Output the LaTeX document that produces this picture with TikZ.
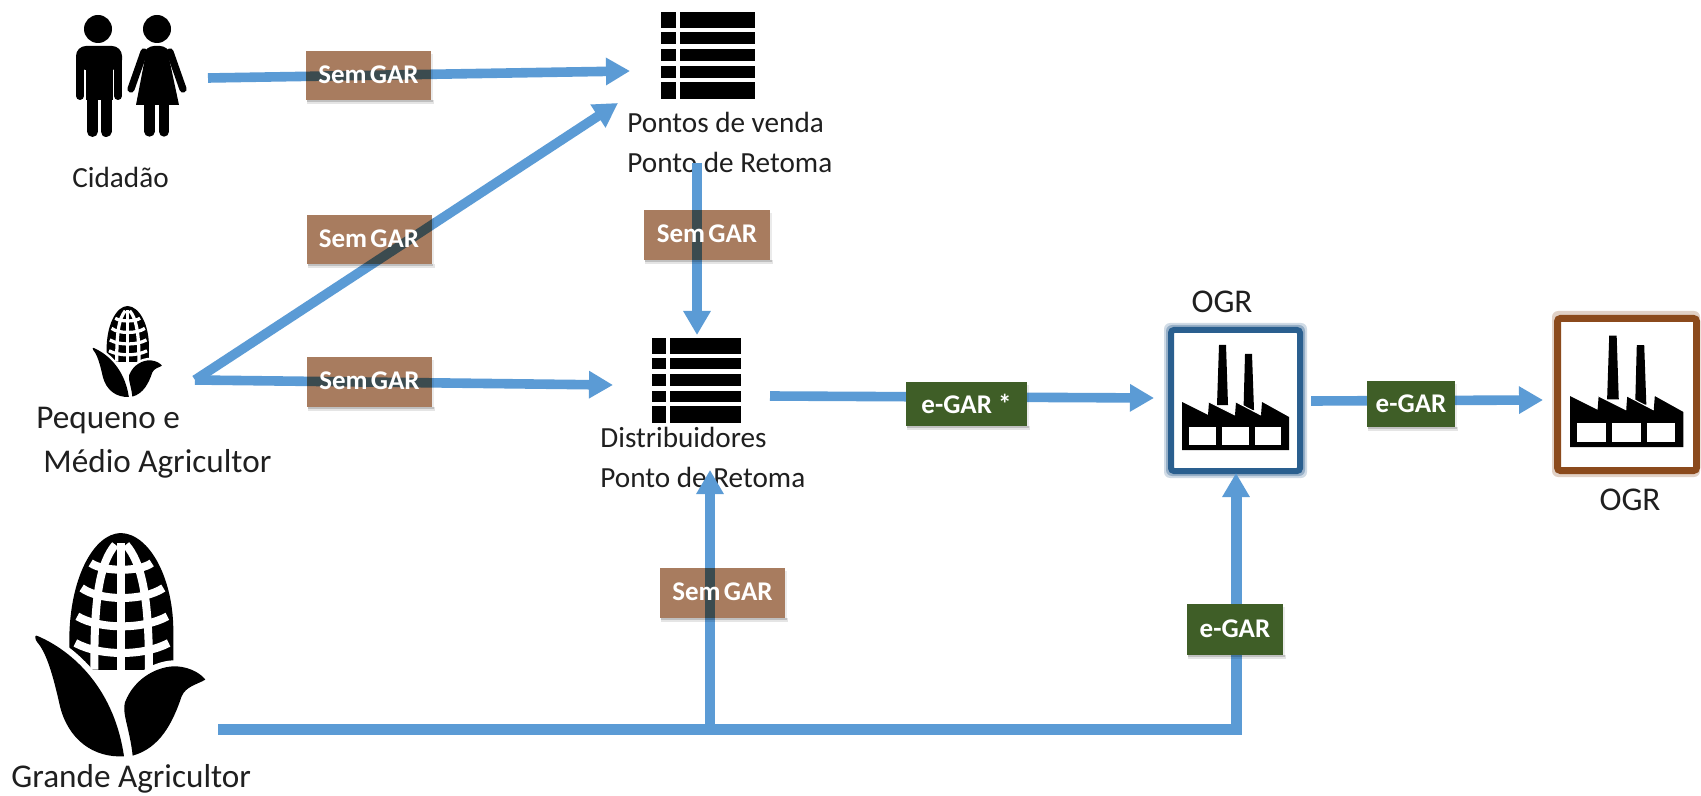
\documentclass[tikz,border=0pt]{standalone}
\usepackage{fontspec}
\setmainfont{Carlito}
\usetikzlibrary{arrows.meta}
\definecolor{flowblue}{HTML}{5B9BD5}
\definecolor{brownbox}{HTML}{A87C5F}
\definecolor{greenbox}{HTML}{3F5E27}
\definecolor{frameblue}{HTML}{2A5F8F}
\definecolor{framebrown}{HTML}{8B4A1C}
\tikzset{
  flow/.style={draw=flowblue,line width=4.8pt,-{Triangle[length=12pt,width=13pt]}},
  flowplain/.style={draw=flowblue,line width=5.5pt},
  captext/.style={anchor=base west,inner sep=0pt,text=black!88},
  small/.style={font=\fontsize{14.6}{18}\selectfont},
  large/.style={font=\fontsize{16.6}{20}\selectfont},
  semfill/.style={fill=brownbox,inner sep=0pt,blend mode=multiply},
  semtext/.style={text=white,font=\fontsize{13.5}{15}\selectfont\bfseries,inner sep=0pt},
  egar/.style={fill=greenbox,text=white,font=\fontsize{13.5}{15}\selectfont\bfseries,inner sep=0pt},
  iconbox/.style={inner sep=0pt,draw=none,fill=none}
}
% soft shadow strips below and right of a box: centre x, centre y, width, height
\newcommand{\softshadow}[4]{%
  \fill[black,opacity=.10] (#1-#3/2+1,#2+#4/2) rectangle (#1+#3/2+3,#2+#4/2+4);
  \fill[black,opacity=.16] (#1-#3/2+1,#2+#4/2) rectangle (#1+#3/2+1.5,#2+#4/2+2);
  \fill[black,opacity=.08] (#1+#3/2,#2-#4/2+3) rectangle (#1+#3/2+2,#2+#4/2);}
\newcommand{\sembox}[5]{%
  \softshadow{#2}{#3}{#4}{#5}
  \node[semfill,minimum width=#4*.5pt,minimum height=#5*.5pt] (#1) at (#2,#3) {};
  \node[semtext] (#1t) at (#2,#3-1) {Sem\hspace{.12em}GAR};}
\newcommand{\egarbox}[6]{%
  \softshadow{#2}{#3}{#4}{#5}
  \node[egar,minimum width=#4*.5pt,minimum height=#5*.5pt] (#1) at (#2,#3) {#6};}
\newcommand{\tabicon}[4]{%
  \begin{scope}[shift={(#1,#2)},xscale=#3,yscale=#4]
    \foreach \ya/\yb in {0/16,20/32,37/49,54/66,70/87}{
      \fill[black] (0,\ya) rectangle (15,\yb);
      \fill[black] (19,\ya) rectangle (94,\yb);}
  \end{scope}}
\newcommand{\facticon}[3]{%
  \begin{scope}[shift={(#1,#2)},scale=#3,shift={(-1182,-450)}]
    \fill[black] (1217,405)--(1219,345)--(1226,345)--(1228,405)--cycle;
    \fill[black] (1243.5,410)--(1245,354)--(1252,354)--(1254,410)--cycle;
    \fill[black] (1182,450)--(1182,402)--(1208,415)--(1209,402)--(1235,415)--(1236,402)--(1261,415)--(1262,402)--(1289,417)--(1289,450)--cycle;
    \draw[white,line width=.5pt] (1209,402)--(1235,415) (1236,402)--(1261,415);
    \fill[white] (1189,427) rectangle (1216,445);
    \fill[white] (1222,427) rectangle (1249,445);
    \fill[white] (1255,427) rectangle (1281,445);
  \end{scope}}
\newcommand{\cornicon}[3]{%
  \begin{scope}[shift={(#1,#2)},scale=#3,shift={(-108,-760)}]
    \fill[black] (208,1200)--(208,1095) .. controls (205,900) and (280,762) .. (362,760)
       .. controls (450,762) and (522,900) .. (520,1060) -- (520,1200) -- cycle;
    \begin{scope}[white,line width=#3*12pt]
      \draw (362,790)--(362,1240);
      \draw (346,795) .. controls (300,850) and (282,950) .. (283,1170);
      \draw (378,795) .. controls (425,850) and (447,950) .. (447,1170);
      \draw (272,850) .. controls (310,877) and (420,877) .. (455,850);
      \draw (245,925) .. controls (300,965) and (430,965) .. (490,925);
      \draw (232,1010) .. controls (300,1050) and (430,1050) .. (502,1010);
      \draw (226,1090) .. controls (300,1130) and (430,1130) .. (506,1090);
    \end{scope}
    \fill[white] (208,1170) rectangle (520,1260);
    \fill[black,preaction={draw=white,line width=#3*18pt}] (110,1068) .. controls (200,1105) and (340,1210) .. (372,1430)
      .. controls (280,1435) and (205,1380) .. (180,1280) .. controls (160,1190) and (140,1120) .. (112,1088) .. controls (104,1078) and (104,1066) .. (110,1068) -- cycle;
    \fill[black,preaction={draw=white,line width=#3*18pt}] (398,1428) .. controls (390,1350) and (365,1300) .. (375,1268)
      .. controls (405,1190) and (480,1158) .. (530,1160) .. controls (575,1163) and (605,1185) .. (616,1200)
      .. controls (590,1215) and (558,1220) .. (545,1250) .. controls (518,1330) and (480,1405) .. (398,1428) -- cycle;
  \end{scope}}
\begin{document}
\begin{tikzpicture}[x=.5pt,y=-.5pt]
\useasboundingbox (0,0) rectangle (1701,796);
\fill[white] (0,0) rectangle (1701,796);
% ---- people
\node[iconbox,minimum width=57pt,minimum height=67pt] (pessoas) at (131,73) {};
\begin{scope}[black]
  \fill (98,29) circle (14);
  \fill[rounded corners=5pt] (76,70) -- (76,46) -- (122,46) -- (122,70) -- cycle;
  \draw[line width=4pt,line cap=round] (80,58) -- (80,96);
  \draw[line width=4pt,line cap=round] (118,58) -- (118,96);
  \fill (85.5,55) rectangle (112.5,100);
  \draw[line width=5.5pt,line cap=round] (92.5,95) -- (92.5,131.5);
  \draw[line width=5.5pt,line cap=round] (106,95) -- (106,131.5);
  \fill (157,29) circle (14);
  \fill[rounded corners=4pt] (142,60) -- (146,46) -- (168,46) -- (172,60) -- cycle;
  \fill (145,58) -- (169,58) -- (179,105) -- (136,105) -- cycle;
  \draw[line width=3.6pt,line cap=round] (144,52) -- (131,89);
  \draw[line width=3.6pt,line cap=round] (170,52) -- (183,89);
  \draw[line width=5.2pt,line cap=round] (149.5,100) -- (149.5,131.5);
  \draw[line width=5.2pt,line cap=round] (164,100) -- (164,131.5);
\end{scope}
% ---- corn and tables
\node[iconbox,minimum width=35pt,minimum height=46pt] (milhoP) at (127,351) {};
\cornicon{93}{306}{.1357}
\node[iconbox,minimum width=85pt,minimum height=112pt] (milhoG) at (121,645) {};
\cornicon{36}{533}{.3333}
\node[iconbox,minimum width=47pt,minimum height=43.5pt] (venda) at (708,55.5) {};
\tabicon{661}{12}{1}{1}
\node[iconbox,minimum width=44.5pt,minimum height=42.5pt] (distrib) at (696.5,380.5) {};
\tabicon{652}{338}{.947}{.977}
% ---- texts
\node[captext,small] (tCid) at (72,188) {Cidadão};
\node[captext,large] (tPeq) at (36,428) {Pequeno e};
\node[captext,large] (tMed) at (43,472) {Médio Agricultor};
\node[captext,large] (tGra) at (11,787) {Grande Agricultor};
\node[captext,small] (tPv) at (627,133) {Pontos de venda};
\node[captext,small] (tPr) at (627,173) {Ponto de Retoma};
\node[captext,small] (tDi) at (600,447) {Distribuidores};
\node[captext,small] (tDr) at (600,487) {Ponto de Retoma};
\node[captext,large,anchor=center] (tO1) at (1222,302) {OGR};
\node[captext,large,anchor=center] (tO2) at (1630,500) {OGR};
% ---- factories
\fill[frameblue,opacity=.22,rounded corners=3pt] (1164,323) rectangle (1307,478);
\fill[frameblue,opacity=.35,rounded corners=3pt] (1166,325) rectangle (1305,476);
\node[draw=frameblue,line width=3pt,fill=white,inner sep=0pt,outer sep=0pt,minimum width=64.5pt,minimum height=70.5pt,rounded corners=1.5pt] (ogrA) at (1235.5,400.5) {};
\facticon{1182}{450}{1}
\fill[framebrown,opacity=.25,rounded corners=3pt] (1552,311) rectangle (1700,477);
\node[draw=framebrown,line width=3.5pt,fill=white,inner sep=0pt,outer sep=0pt,minimum width=69.5pt,minimum height=76pt,rounded corners=1.5pt] (ogrB) at (1627,394.5) {};
\facticon{1570}{447}{1.06}
% ---- connector ends
\coordinate (c1s) at (208,78);
\coordinate (c1e) at (630,71);
\coordinate (vertice) at (195,380);
\coordinate (c2e) at (618,103);
\coordinate (c3e) at (613,385);
\coordinate (c4s) at (697,163);
\coordinate (c4e) at (697,335);
\coordinate (c5s) at (770,396);
\coordinate (c5e) at (1154,398);
\coordinate (c6s) at (1311,401);
\coordinate (c6e) at (1543,400);
\coordinate (g0) at (218,729);
\coordinate (g1) at (710,729);
\coordinate (g2) at (1236,729);
\coordinate (c7e) at (710,470);
\coordinate (c8e) at (1236,473);
% ---- connectors
\draw[flow] (c1s) -- (c1e);
\draw[flow] (vertice) -- (c2e);
\draw[flow] (vertice) -- (c3e);
\draw[flow] (c4s) -- (c4e);
\draw[flow] (c5s) -- (c5e);
\draw[flow] (c6s) -- (c6e);
\draw[flowplain,line join=miter] (g0) -- (g2) -- ([yshift=-12pt]c8e);
\draw[flow] (g2) -- (c8e);
\draw[flow] (g1) -- (c7e);
% ---- labels
\sembox{s1}{368.5}{76}{125}{49}
\sembox{s2}{369}{240}{125}{49}
\sembox{s3}{369.5}{382}{125}{49}
\sembox{s4}{707}{235}{126}{50}
\sembox{s5}{722.5}{593}{125}{50}
\egarbox{e1}{966.5}{404}{121}{44}{e-GAR *}
\egarbox{e2}{1411}{404}{88}{46}{e-GAR}
\egarbox{e3}{1235}{629}{96}{51}{e-GAR}
\end{tikzpicture}
\end{document}
